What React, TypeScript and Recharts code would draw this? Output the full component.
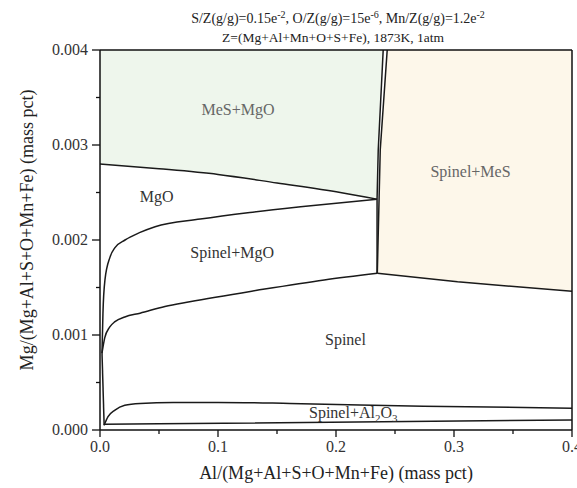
import { ComposedChart, Line, Area, Scatter, XAxis, YAxis, ReferenceLine } from 'recharts';

// phase boundaries (x = Al, y = Mg, mass fraction)
const mgoTop = [
  { x: 0, y: 0.0028 },
  { x: 0.05, y: 0.00275 },
  { x: 0.1, y: 0.00269 },
  { x: 0.15, y: 0.0026 },
  { x: 0.2036, y: 0.0025 },
  { x: 0.2348, y: 0.00243 },
];

const mgoBottom = [
  { x: 0.0017, y: 0.00081 },
  { x: 0.0025, y: 0.00123 },
  { x: 0.0042, y: 0.00158 },
  { x: 0.0085, y: 0.00182 },
  { x: 0.0127, y: 0.00192 },
  { x: 0.0212, y: 0.002 },
  { x: 0.034, y: 0.00208 },
  { x: 0.0467, y: 0.00214 },
  { x: 0.085, y: 0.00222 },
  { x: 0.127, y: 0.00229 },
  { x: 0.17, y: 0.00235 },
  { x: 0.2348, y: 0.00243 },
];

// Spinel / Spinel+MgO, up to the kink
const spinelLeft = [
  { x: 0.0017, y: 0.00081 },
  { x: 0.004, y: 0.00097 },
  { x: 0.008, y: 0.00108 },
  { x: 0.0127, y: 0.00114 },
  { x: 0.021, y: 0.00119 },
  { x: 0.034, y: 0.00123 },
  { x: 0.055, y: 0.0013 },
  { x: 0.076, y: 0.00135 },
  { x: 0.133, y: 0.00147 },
  { x: 0.19, y: 0.00158 },
  { x: 0.235, y: 0.00165 },
];

// Spinel / Spinel+MeS, from the kink to the right edge
const spinelRight = [
  { x: 0.235, y: 0.00165 },
  { x: 0.303, y: 0.00156 },
  { x: 0.4, y: 0.00146 },
];

const leftEdge = [
  { x: 0.0017, y: 0.00081 },
  { x: 0.0035, y: 0.00005 },
];

const aluminaTop = [
  { x: 0.0035, y: 0.00005 },
  { x: 0.0068, y: 0.00014 },
  { x: 0.0127, y: 0.00021 },
  { x: 0.021, y: 0.00026 },
  { x: 0.034, y: 0.00028 },
  { x: 0.062, y: 0.00029 },
  { x: 0.1, y: 0.00029 },
  { x: 0.161, y: 0.00028 },
  { x: 0.274, y: 0.00025 },
  { x: 0.4, y: 0.00023 },
];

const aluminaBottom = [
  { x: 0.0035, y: 0.00006 },
  { x: 0.05, y: 0.000065 },
  { x: 0.4, y: 0.000105 },
];

const mesLeft = [
  { x: 0.2348, y: 0.00165 },
  { x: 0.2348, y: 0.00243 },
  { x: 0.2358, y: 0.00295 },
  { x: 0.24, y: 0.004 },
];

const mesRight = [
  { x: 0.235, y: 0.00165 },
  { x: 0.2375, y: 0.00295 },
  { x: 0.2434, y: 0.004 },
];

const regionLabels = [
  { x: 0.117, y: 0.00337, text: 'MeS+MgO', color: '#666' },
  { x: 0.048, y: 0.00245, text: 'MgO', color: '#333' },
  { x: 0.112, y: 0.00186, text: 'Spinel+MgO', color: '#333' },
  { x: 0.208, y: 0.00095, text: 'Spinel', color: '#333' },
  { x: 0.2146, y: 0.00018, text: 'Spinel+Al2O3', color: '#333' },
  { x: 0.314, y: 0.00272, text: 'Spinel+MeS', color: '#666' },
];

const xTicks = [0, 0.05, 0.1, 0.15, 0.2, 0.25, 0.3, 0.35, 0.4];
const yTicks = [0, 0.0005, 0.001, 0.0015, 0.002, 0.0025, 0.003, 0.0035, 0.004];

const TOP = 0.004;
const FONT = '"Liberation Serif", "Times New Roman", serif';

// y of a boundary at a given x (used only to close the fill polygons)
function yAt(pts: { x: number; y: number }[], x: number) {
  for (let i = 1; i < pts.length; i++) {
    if (x <= pts[i].x) {
      const a = pts[i - 1], b = pts[i];
      return a.y + ((b.y - a.y) * (x - a.x)) / (b.x - a.x);
    }
  }
  return pts[pts.length - 1].y;
}

const greenFill = [
  ...mgoTop.map((p) => ({ x: p.x, range: [p.y, TOP] })),
  ...mesLeft.slice(2).map((p) => ({ x: p.x, range: [p.y, TOP] })),
];

const creamFill = [
  ...mesRight.map((p) => ({ x: p.x, range: [yAt(spinelRight, p.x), p.y] })),
  ...spinelRight.filter((p) => p.x > 0.2434).map((p) => ({ x: p.x, range: [p.y, TOP] })),
];

const isMajor = (v: number, step: number) => Math.abs(v / step - Math.round(v / step)) < 1e-6;

const XTick = (props: any) => {
  const { x, y, payload } = props;
  const major = isMajor(payload.value, 0.1);
  const axisY = y - 8;
  return (
    <g>
      <line x1={x} x2={x} y1={axisY} y2={axisY + (major ? 7 : 4)} stroke="#111" strokeWidth={1.3} />
      {major && (
        <text x={x} y={axisY + 22} textAnchor="middle" fontSize={16} fontFamily={FONT} fill="#333">
          {payload.value.toFixed(1)}
        </text>
      )}
    </g>
  );
};

const YTick = (props: any) => {
  const { x, y, payload } = props;
  const major = isMajor(payload.value, 0.001);
  const axisX = x + 8;
  return (
    <g>
      <line x1={axisX - (major ? 8 : 4)} x2={axisX} y1={y} y2={y} stroke="#111" strokeWidth={1.3} />
      {major && (
        <text x={axisX - 12} y={y + 5} textAnchor="end" fontSize={16} fontFamily={FONT} fill="#333">
          {payload.value.toFixed(3)}
        </text>
      )}
    </g>
  );
};

const RegionLabel = (props: any) => {
  const { cx, cy, payload } = props;
  const style = { fontSize: 16, fontFamily: FONT, fill: payload.color };
  if (payload.text === 'Spinel+Al2O3') {
    return (
      <text x={cx} y={cy + 5} textAnchor="middle" {...style}>
        Spinel+Al<tspan dy={4} fontSize={11}>2</tspan>
        <tspan dy={-4}>O</tspan>
        <tspan dy={4} fontSize={11}>3</tspan>
      </text>
    );
  }
  return (
    <text x={cx} y={cy + 5} textAnchor="middle" {...style}>
      {payload.text}
    </text>
  );
};

// smooth boundaries vs. straight segments
const curves = [mgoTop, mgoBottom, spinelLeft, aluminaTop];
const straights = [spinelRight, leftEdge, aluminaBottom, mesLeft, mesRight];

export default function App() {
  return (
    <div style={{ position: 'absolute', left: 0, top: 0, width: 577, height: 488, background: '#fff' }}>
      <ComposedChart width={577} height={488} margin={{ top: 50, right: 5, bottom: 28, left: 40 }}>
        <XAxis
          type="number"
          dataKey="x"
          domain={[0, 0.4]}
          ticks={xTicks}
          interval={0}
          allowDataOverflow
          height={30}
          tickSize={6}
          tickMargin={2}
          tickLine={false}
          tick={<XTick />}
          axisLine={{ stroke: '#111', strokeWidth: 1.5 }}
        />
        <YAxis
          type="number"
          dataKey="y"
          domain={[0, 0.004]}
          ticks={yTicks}
          interval={0}
          allowDataOverflow
          width={60}
          tickSize={6}
          tickMargin={2}
          tickLine={false}
          tick={<YTick />}
          axisLine={{ stroke: '#111', strokeWidth: 1.5 }}
        />
        <Area data={greenFill} dataKey="range" type="monotone" stroke="none" fill="#eef6ec" fillOpacity={1} isAnimationActive={false} dot={false} activeDot={false} />
        <Area data={creamFill} dataKey="range" type="linear" stroke="none" fill="#fdf7ea" fillOpacity={1} isAnimationActive={false} dot={false} activeDot={false} />
        {curves.map((d, i) => (
          <Line
            key={'c' + i}
            data={d}
            dataKey="y"
            type="monotone"
            stroke="#1a1a1a"
            strokeWidth={1.5}
            dot={false}
            activeDot={false}
            isAnimationActive={false}
          />
        ))}
        {straights.map((d, i) => (
          <Line
            key={'s' + i}
            data={d}
            dataKey="y"
            type="linear"
            stroke="#1a1a1a"
            strokeWidth={1.5}
            dot={false}
            activeDot={false}
            isAnimationActive={false}
          />
        ))}
        <ReferenceLine y={TOP} stroke="#111" strokeWidth={1.5} />
        <ReferenceLine x={0.4} stroke="#111" strokeWidth={1.5} />
        <Scatter data={regionLabels} dataKey="y" shape={<RegionLabel />} isAnimationActive={false} />
      </ComposedChart>
      <svg width={577} height={488} style={{ position: 'absolute', left: 0, top: 0, pointerEvents: 'none' }} fontFamily={FONT}>
        <text x={338} y={23} textAnchor="middle" fontSize={14} fill="#222">
          S/Z(g/g)=0.15e<tspan dy={-5} fontSize={10}>-2</tspan>
          <tspan dy={5}>, O/Z(g/g)=15e</tspan>
          <tspan dy={-5} fontSize={10}>-6</tspan>
          <tspan dy={5}>, Mn/Z(g/g)=1.2e</tspan>
          <tspan dy={-5} fontSize={10}>-2</tspan>
        </text>
        <text x={333} y={42} textAnchor="middle" fontSize={13.5} fill="#222">
          Z=(Mg+Al+Mn+O+S+Fe), 1873K, 1atm
        </text>
        <text x={336} y={479} textAnchor="middle" fontSize={18} fill="#222">
          Al/(Mg+Al+S+O+Mn+Fe) (mass pct)
        </text>
        <text transform="rotate(-90)" x={-230} y={33} textAnchor="middle" fontSize={18} fill="#222">
          Mg/(Mg+Al+S+O+Mn+Fe) (mass pct)
        </text>
      </svg>
    </div>
  );
}
